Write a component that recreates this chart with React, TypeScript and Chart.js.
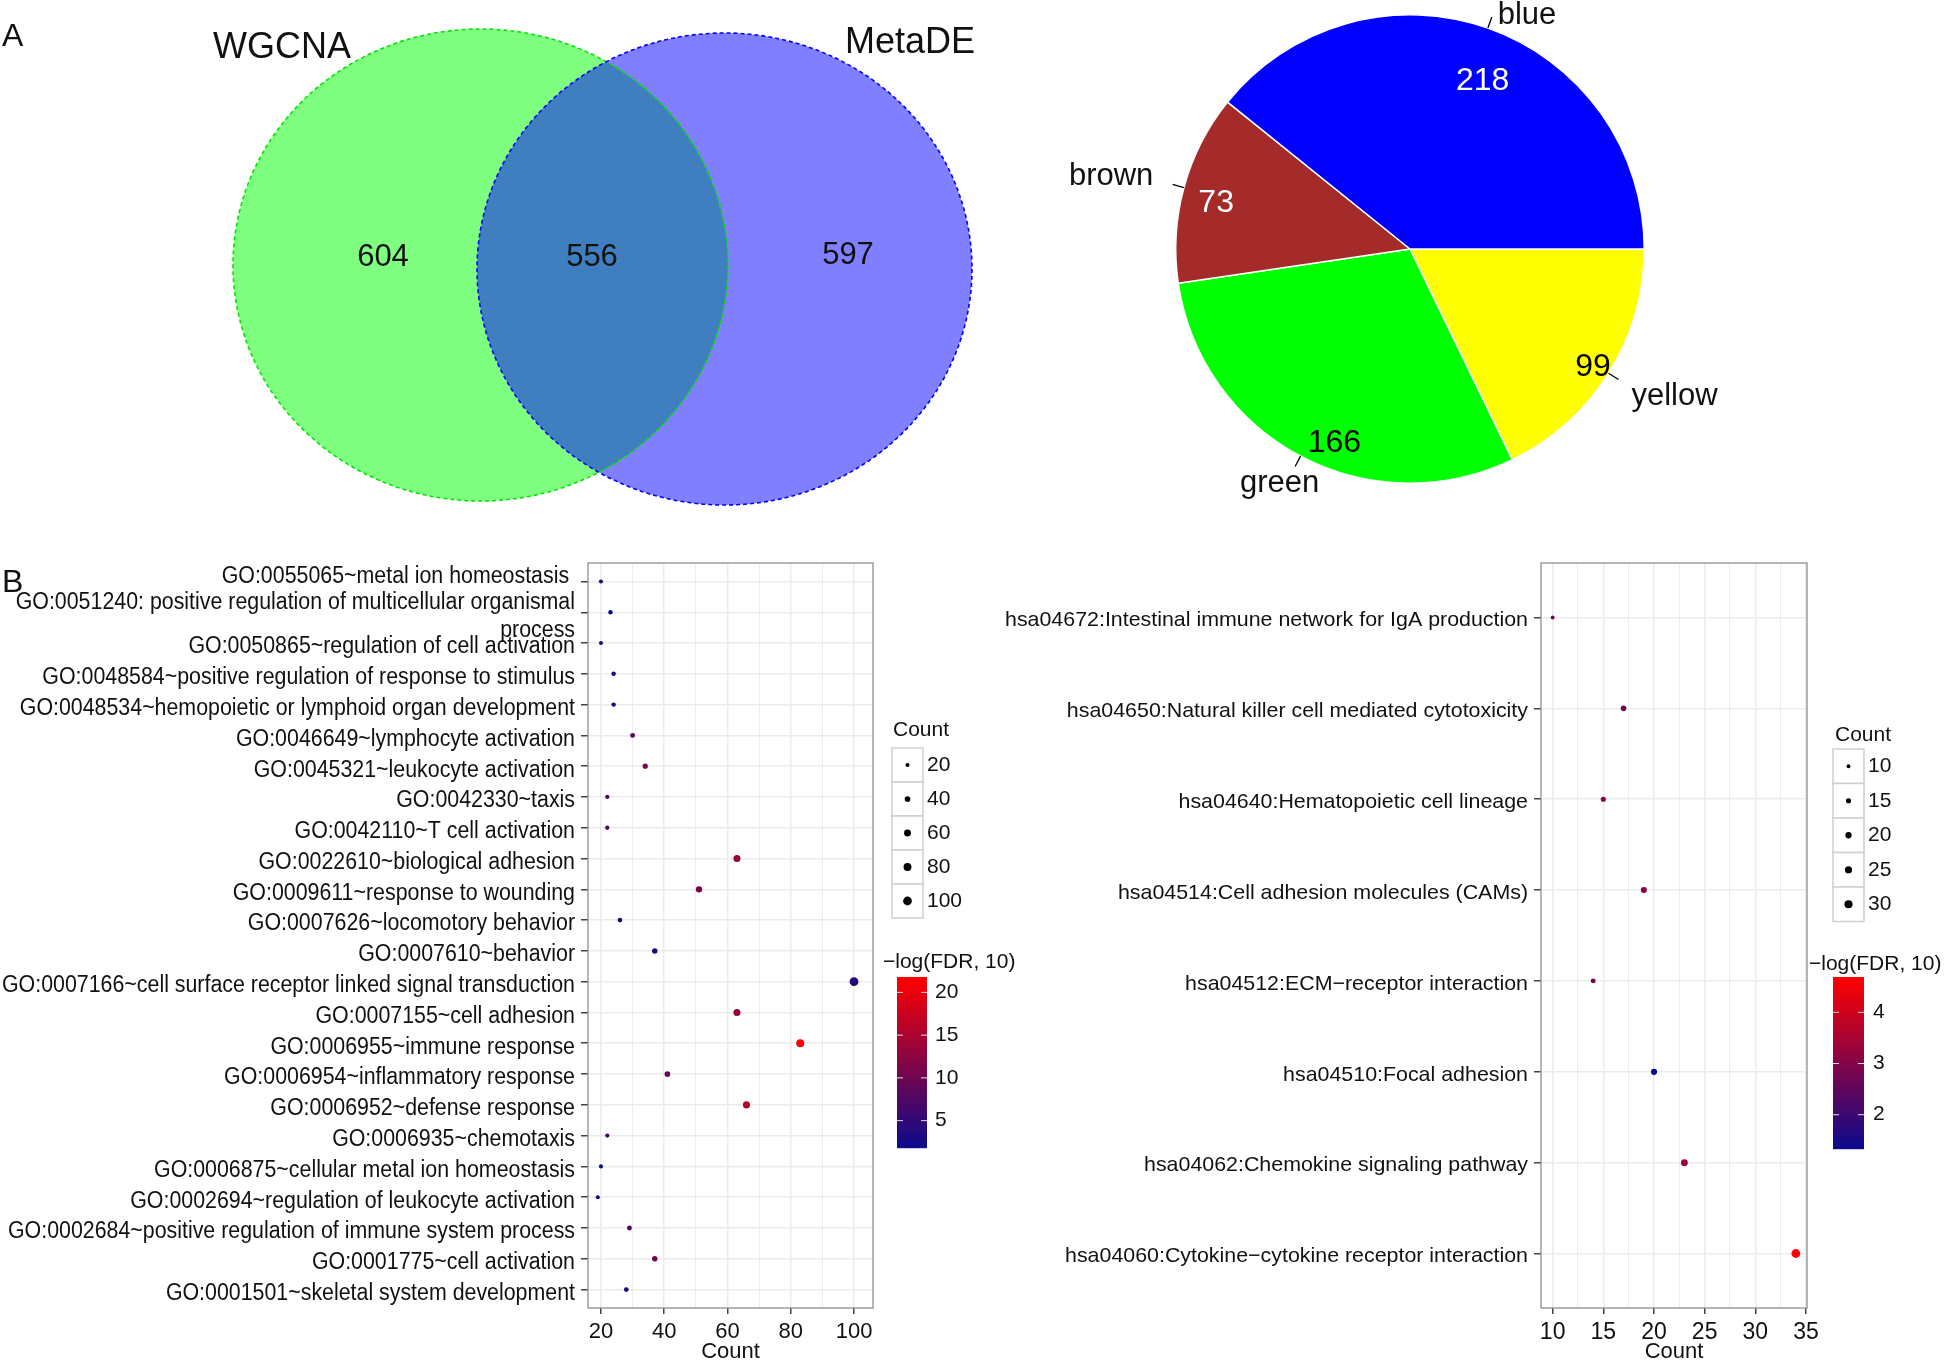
import React, { useEffect, useRef } from 'react';
import { Chart, registerables } from 'chart.js';

Chart.register(...registerables);

const FONT = '"Liberation Sans", Arial, Helvetica, sans-serif';
const TEXT = '#111111';
Chart.defaults.font.family = FONT;

// ---------------- Panel A (left): Venn diagram ----------------
const vennSetNames = ['WGCNA', 'MetaDE'];
const vennRegionCounts = [604, 556, 597]; // WGCNA only, overlap, MetaDE only

// ---------------- Panel A (right): module pie ----------------
const moduleNames = ['blue', 'brown', 'green', 'yellow'];
const moduleSizes = [218, 73, 166, 99];
const moduleColors = ['#0000FF', '#A52A2A', '#00FF00', '#FFFF00'];

// ---------------- Panel B (left): GO enrichment ----------------
const goTerms = [
  'GO:0055065~metal ion homeostasis ',
  'GO:0051240: positive regulation of multicellular organismal\nprocess',
  'GO:0050865~regulation of cell activation',
  'GO:0048584~positive regulation of response to stimulus',
  'GO:0048534~hemopoietic or lymphoid organ development',
  'GO:0046649~lymphocyte activation',
  'GO:0045321~leukocyte activation',
  'GO:0042330~taxis',
  'GO:0042110~T cell activation',
  'GO:0022610~biological adhesion',
  'GO:0009611~response to wounding',
  'GO:0007626~locomotory behavior',
  'GO:0007610~behavior',
  'GO:0007166~cell surface receptor linked signal transduction',
  'GO:0007155~cell adhesion',
  'GO:0006955~immune response',
  'GO:0006954~inflammatory response',
  'GO:0006952~defense response',
  'GO:0006935~chemotaxis',
  'GO:0006875~cellular metal ion homeostasis',
  'GO:0002694~regulation of leukocyte activation',
  'GO:0002684~positive regulation of immune system process',
  'GO:0001775~cell activation',
  'GO:0001501~skeletal system development',
];
const goCounts = [20, 23, 20, 24, 24, 30, 34, 22, 22, 63, 51, 26, 37, 100, 63, 83, 41, 66, 22, 20, 19, 29, 37, 28];
const goLogFdr = [2.2, 2.0, 3.5, 2.4, 2.6, 8.5, 11.0, 7.5, 7.0, 13.5, 10.5, 3.0, 3.2, 4.0, 13.0, 21.8, 9.5, 16.0, 7.2, 1.8, 2.5, 8.0, 10.0, 3.5];
const goXTicks = [20, 40, 60, 80, 100];
const goXMinorTicks = [30, 50, 70, 90];
const goCountBreaks = [20, 40, 60, 80, 100];
const goFdrBreaks = [5, 10, 15, 20];

// ---------------- Panel B (right): KEGG enrichment ----------------
const keggTerms = [
  'hsa04672:Intestinal immune network for IgA production',
  'hsa04650:Natural killer cell mediated cytotoxicity',
  'hsa04640:Hematopoietic cell lineage',
  'hsa04514:Cell adhesion molecules (CAMs)',
  'hsa04512:ECM\u2212receptor interaction',
  'hsa04510:Focal adhesion',
  'hsa04062:Chemokine signaling pathway',
  'hsa04060:Cytokine\u2212cytokine receptor interaction',
];
const keggCounts = [10, 17, 15, 19, 14, 20, 23, 34];
const keggLogFdr = [2.7, 2.6, 3.0, 3.1, 2.8, 1.33, 3.3, 4.69];
const keggXTicks = [10, 15, 20, 25, 30, 35];
const keggXMinorTicks = [12.5, 17.5, 22.5, 27.5, 32.5];
const keggCountBreaks = [10, 15, 20, 25, 30];
const keggFdrBreaks = [2, 3, 4];

// ---------------- colour helper ----------------
function hexToRgb(h: string): number[] {
  const s = h.replace('#', '');
  return [0, 2, 4].map((i) => parseInt(s.slice(i, i + 2), 16));
}
function makeRamp(low: string, high: string, vmin: number, vmax: number) {
  const a = hexToRgb(low);
  const b = hexToRgb(high);
  return (v: number) => {
    const t = Math.max(0, Math.min(1, (v - vmin) / (vmax - vmin)));
    const c = a.map((x, i) => Math.round(x + (b[i] - x) * t));
    return `rgb(${c[0]},${c[1]},${c[2]})`;
  };
}

// ---------------- Venn ----------------
function VennCanvas() {
  const ref = useRef<HTMLCanvasElement>(null);
  useEffect(() => {
    const shapes = [
      { cx: 480.5, cy: 265, rx: 247.5, ry: 236, fill: 'rgba(0,255,0,0.5)', line: '#00E600', title: { x: 282, y: 48 } },
      { cx: 724.5, cy: 269, rx: 247.5, ry: 236, fill: 'rgba(0,0,255,0.5)', line: '#0000FF', title: { x: 910, y: 43 } },
    ];
    const countPos = [{ x: 383, y: 257 }, { x: 592, y: 257 }, { x: 848, y: 255 }];
    const vennPlugin = {
      id: 'venn',
      afterDraw(chart: any) {
        const { ctx } = chart;
        const xs = chart.scales.x, ys = chart.scales.y;
        const px = (v: number) => xs.getPixelForValue(v);
        const py = (v: number) => ys.getPixelForValue(v);
        ctx.save();
        shapes.forEach((s) => {
          ctx.beginPath();
          ctx.ellipse(px(s.cx), py(s.cy), Math.abs(px(s.cx + s.rx) - px(s.cx)), Math.abs(py(s.cy + s.ry) - py(s.cy)), 0, 0, Math.PI * 2);
          ctx.fillStyle = s.fill;
          ctx.fill();
        });
        ctx.setLineDash([4, 3]);
        ctx.lineWidth = 1.6;
        shapes.forEach((s) => {
          ctx.beginPath();
          ctx.ellipse(px(s.cx), py(s.cy), Math.abs(px(s.cx + s.rx) - px(s.cx)), Math.abs(py(s.cy + s.ry) - py(s.cy)), 0, 0, Math.PI * 2);
          ctx.strokeStyle = s.line;
          ctx.stroke();
        });
        ctx.setLineDash([]);
        ctx.fillStyle = TEXT;
        ctx.textAlign = 'center';
        ctx.textBaseline = 'middle';
        ctx.font = `36px ${FONT}`;
        vennSetNames.forEach((n, i) => ctx.fillText(n, px(shapes[i].title.x), py(shapes[i].title.y)));
        ctx.font = `31px ${FONT}`;
        vennRegionCounts.forEach((c, i) => ctx.fillText(String(c), px(countPos[i].x), py(countPos[i].y)));
        ctx.textAlign = 'left';
        ctx.font = `32px ${FONT}`;
        ctx.fillText('A', px(2), py(37));
        ctx.restore();
      },
    };
    const chart = new Chart(ref.current as HTMLCanvasElement, {
      type: 'scatter',
      data: { datasets: [] },
      options: {
        responsive: false,
        animation: false,
        devicePixelRatio: 1,
        events: [],
        layout: { padding: 0 },
        plugins: { legend: { display: false }, tooltip: { enabled: false } },
        scales: {
          x: { type: 'linear', display: false, min: 0, max: 1000 },
          y: { type: 'linear', display: false, min: 0, max: 530, reverse: true },
        },
      },
      plugins: [vennPlugin],
    } as any);
    return () => chart.destroy();
  }, []);
  return <canvas ref={ref} width={1000} height={530} style={{ position: 'absolute', left: 0, top: 0, width: 1000, height: 530 }} />;
}

// ---------------- Pie ----------------
function PieCanvas() {
  const ref = useRef<HTMLCanvasElement>(null);
  useEffect(() => {
    const style: Record<string, any> = {
      blue: { align: 'left', dx: 2, dy: 9, f: 0.78, da: -4, col: '#FFFFFF' },
      brown: { align: 'right', dx: -8, dy: -5, f: 0.85, da: 2, col: '#FFFFFF' },
      green: { align: 'center', dx: -10, dy: 7, f: 0.89, da: 6.6, col: '#000000' },
      yellow: { align: 'left', dx: 3, dy: 11, f: 0.93, da: -0.8, col: '#000000' },
    };
    const labelPlugin = {
      id: 'pieLabels',
      afterDraw(chart: any) {
        const { ctx } = chart;
        const meta = chart.getDatasetMeta(0);
        ctx.save();
        meta.data.forEach((arc: any, i: number) => {
          const p = arc.getProps(['x', 'y', 'startAngle', 'endAngle', 'outerRadius'], true);
          const name = chart.data.labels[i];
          const val = chart.data.datasets[0].data[i];
          const st = style[name];
          const mid = (p.startAngle + p.endAngle) / 2;
          const r = p.outerRadius;
          const c = Math.cos(mid), s = Math.sin(mid);
          ctx.strokeStyle = '#000';
          ctx.lineWidth = 1.3;
          ctx.beginPath();
          ctx.moveTo(p.x + r * c, p.y + r * s);
          ctx.lineTo(p.x + 1.05 * r * c, p.y + 1.05 * r * s);
          ctx.stroke();
          ctx.font = `31px ${FONT}`;
          ctx.fillStyle = TEXT;
          ctx.textAlign = st.align;
          ctx.textBaseline = 'middle';
          ctx.fillText(name, p.x + 1.1 * r * c + st.dx, p.y + 1.1 * r * s + st.dy);
          const a2 = mid - (st.da * Math.PI) / 180;
          ctx.font = `32px ${FONT}`;
          ctx.fillStyle = st.col;
          ctx.textAlign = 'center';
          ctx.fillText(String(val), p.x + st.f * r * Math.cos(a2), p.y + st.f * r * Math.sin(a2));
        });
        ctx.restore();
      },
    };
    const chart = new Chart(ref.current as HTMLCanvasElement, {
      type: 'pie',
      data: {
        labels: [...moduleNames].reverse(),
        datasets: [{
          data: [...moduleSizes].reverse(),
          backgroundColor: [...moduleColors].reverse(),
          borderColor: '#FFFFFF',
          borderWidth: 1.5,
        }],
      },
      options: {
        responsive: false,
        animation: false,
        devicePixelRatio: 1,
        events: [],
        rotation: 90,
        layout: { padding: { left: 175, right: 301, top: 14, bottom: 46 } },
        plugins: { legend: { display: false }, tooltip: { enabled: false } },
      },
      plugins: [labelPlugin],
    } as any);
    return () => chart.destroy();
  }, []);
  return <canvas ref={ref} width={946} height={530} style={{ position: 'absolute', left: 1000, top: 0, width: 946, height: 530 }} />;
}

// ---------------- Dot plots ----------------
type DotCfg = {
  terms: string[]; counts: number[]; fdr: number[];
  xMin: number; xMax: number; xTicks: number[]; xMinor: number[];
  countBreaks: number[]; fdrBreaks: number[];
  width: number; height: number; left: number; top: number;
  area: { left: number; right: number; top: number; bottom: number };
  labelSize: number; labelWidth: number; labelGap: number; labelDy: number; firstDy: number; lineGap: number;
  tickFont: number;
  rRange: number[];
  legend: any;
  letter?: { text: string; x: number; y: number };
};

function DotPlot({ cfg }: { cfg: DotCfg }) {
  const ref = useRef<HTMLCanvasElement>(null);
  useEffect(() => {
    const cMin = Math.min(...cfg.counts), cMax = Math.max(...cfg.counts);
    const fMin = Math.min(...cfg.fdr), fMax = Math.max(...cfg.fdr);
    const rad = (v: number) =>
      cfg.rRange[0] + (cfg.rRange[1] - cfg.rRange[0]) * (Math.sqrt(v) - Math.sqrt(cMin)) / (Math.sqrt(cMax) - Math.sqrt(cMin));
    const col = makeRamp('#0A0A8C', '#FF0000', fMin, fMax);
    const n = cfg.terms.length;
    const isMajor = (v: number) => cfg.xTicks.includes(v);

    const decor = {
      id: 'dotDecor',
      afterDraw(chart: any) {
        const { ctx, chartArea: a } = chart;
        const ys = chart.scales.y;
        ctx.save();
        ctx.strokeStyle = '#8F8F8F';
        ctx.lineWidth = 1.3;
        ctx.strokeRect(a.left, a.top, a.right - a.left, a.bottom - a.top);

        ctx.font = `${cfg.labelSize}px ${FONT}`;
        ctx.fillStyle = TEXT;
        ctx.textBaseline = 'middle';
        ctx.textAlign = 'right';
        const lines = cfg.terms.map((t) => t.split('\n'));
        let widest = 0;
        lines.forEach((ls) => ls.forEach((l) => { widest = Math.max(widest, ctx.measureText(l).width); }));
        const sx = cfg.labelWidth / widest;
        const rx = a.left - cfg.labelGap;
        lines.forEach((ls, i) => {
          const yc = ys.getPixelForValue(i + 1) + (i === 0 ? cfg.firstDy : cfg.labelDy);
          ls.forEach((l, k) => {
            const y = yc + (k - (ls.length - 1) / 2) * cfg.lineGap;
            ctx.save();
            ctx.translate(rx, y);
            ctx.scale(sx, 1);
            ctx.fillText(l, 0, 0);
            ctx.restore();
          });
        });

        const L = cfg.legend;
        ctx.textAlign = 'left';
        ctx.font = `21px ${FONT}`;
        ctx.fillText('Count', L.titleX, L.titleY);
        cfg.countBreaks.forEach((b, i) => {
          const top = L.keyTop + i * L.keyH;
          ctx.fillStyle = '#FFFFFF';
          ctx.fillRect(L.keyX, top, L.keyW, L.keyH);
          ctx.strokeStyle = '#CFCFCF';
          ctx.lineWidth = 1.5;
          ctx.strokeRect(L.keyX, top, L.keyW, L.keyH);
          ctx.fillStyle = '#000000';
          ctx.beginPath();
          ctx.arc(L.keyX + L.keyW / 2, top + L.keyH / 2, rad(b), 0, Math.PI * 2);
          ctx.fill();
          ctx.fillStyle = TEXT;
          ctx.font = `21px ${FONT}`;
          ctx.fillText(String(b), L.keyLabelX, top + L.keyH / 2);
        });

        ctx.font = `21px ${FONT}`;
        ctx.fillStyle = TEXT;
        ctx.fillText('\u2212log(FDR, 10)', L.cbTitleX, L.cbTitleY);
        const H = L.cbBottom - L.cbTop;
        for (let p = 0; p < H; p++) {
          const v = fMax - ((p + 0.5) / H) * (fMax - fMin);
          ctx.fillStyle = col(v);
          ctx.fillRect(L.cbX, L.cbTop + p, L.cbW, 1.2);
        }
        cfg.fdrBreaks.forEach((b) => {
          const y = L.cbBottom - ((b - fMin) / (fMax - fMin)) * H;
          ctx.strokeStyle = 'rgba(255,255,255,0.85)';
          ctx.lineWidth = 1;
          ctx.beginPath();
          ctx.moveTo(L.cbX, y); ctx.lineTo(L.cbX + 6, y);
          ctx.moveTo(L.cbX + L.cbW - 6, y); ctx.lineTo(L.cbX + L.cbW, y);
          ctx.stroke();
          ctx.fillStyle = TEXT;
          ctx.font = `21px ${FONT}`;
          ctx.fillText(String(b), L.cbLabelX, y);
        });

        if (cfg.letter) {
          ctx.font = `32px ${FONT}`;
          ctx.fillStyle = TEXT;
          ctx.fillText(cfg.letter.text, cfg.letter.x, cfg.letter.y);
        }
        ctx.restore();
      },
    };

    const gridValues = [...cfg.xTicks, ...cfg.xMinor].sort((p, q) => p - q);
    const chart = new Chart(ref.current as HTMLCanvasElement, {
      type: 'scatter',
      data: {
        datasets: [{
          data: cfg.counts.map((c, i) => ({ x: c, y: i + 1 })),
          pointRadius: cfg.counts.map(rad),
          pointHoverRadius: cfg.counts.map(rad),
          pointBackgroundColor: cfg.fdr.map(col),
          pointBorderWidth: 0,
          pointBorderColor: 'rgba(0,0,0,0)',
        }],
      },
      options: {
        responsive: false,
        animation: false,
        devicePixelRatio: 1,
        events: [],
        layout: { padding: { left: 0, top: cfg.area.top, right: cfg.width - cfg.area.right, bottom: 0 } },
        plugins: { legend: { display: false }, tooltip: { enabled: false } },
        scales: {
          x: {
            type: 'linear',
            position: 'bottom',
            min: cfg.xMin,
            max: cfg.xMax,
            afterBuildTicks: (s: any) => { s.ticks = gridValues.map((v) => ({ value: v })); },
            afterFit: (s: any) => { s.height = cfg.height - cfg.area.bottom; },
            ticks: {
              autoSkip: false,
              maxRotation: 0,
              padding: 5,
              color: TEXT,
              font: { family: FONT, size: cfg.tickFont },
              callback: (v: any) => (isMajor(Number(v)) ? String(v) : ''),
            },
            grid: {
              color: '#EBEBEB',
              lineWidth: (ctx: any) => (ctx.tick && isMajor(ctx.tick.value) ? 1.5 : 0.9),
              tickLength: 6,
              tickColor: (ctx: any) => (ctx.tick && isMajor(ctx.tick.value) ? '#444444' : 'rgba(0,0,0,0)'),
            },
            border: { display: false },
            title: { display: true, text: 'Count', color: TEXT, font: { family: FONT, size: 22 }, padding: { top: 0, bottom: 0 } },
          },
          y: {
            type: 'linear',
            reverse: true,
            min: 0.4,
            max: n + 0.6,
            afterBuildTicks: (s: any) => { s.ticks = cfg.terms.map((_, i) => ({ value: i + 1 })); },
            afterFit: (s: any) => { s.width = cfg.area.left; },
            ticks: { display: false },
            grid: { color: '#EBEBEB', lineWidth: 1.5, tickLength: 7, tickColor: '#444444' },
            border: { display: false },
          },
        },
      },
      plugins: [decor],
    } as any);
    return () => chart.destroy();
  }, []);
  return (
    <canvas
      ref={ref}
      width={cfg.width}
      height={cfg.height}
      style={{ position: 'absolute', left: cfg.left, top: cfg.top, width: cfg.width, height: cfg.height }}
    />
  );
}

const goCfg: DotCfg = {
  terms: goTerms, counts: goCounts, fdr: goLogFdr,
  xMin: 15.9, xMax: 106, xTicks: goXTicks, xMinor: goXMinorTicks,
  countBreaks: goCountBreaks, fdrBreaks: goFdrBreaks,
  width: 1030, height: 835, left: 0, top: 530,
  area: { left: 588, right: 873, top: 33, bottom: 778 },
  labelSize: 23, labelWidth: 573, labelGap: 13, labelDy: 4, firstDy: -5, lineGap: 28,
  tickFont: 22,
  rRange: [2.0, 4.4],
  legend: {
    titleX: 893, titleY: 200, keyX: 892, keyW: 31, keyTop: 218, keyH: 34, keyLabelX: 927,
    cbTitleX: 883, cbTitleY: 432, cbX: 897, cbW: 30, cbTop: 447, cbBottom: 618, cbLabelX: 935,
  },
  letter: { text: 'B', x: 2, y: 53 },
};

const keggCfg: DotCfg = {
  terms: keggTerms, counts: keggCounts, fdr: keggLogFdr,
  xMin: 8.85, xMax: 35.1, xTicks: keggXTicks, xMinor: keggXMinorTicks,
  countBreaks: keggCountBreaks, fdrBreaks: keggFdrBreaks,
  width: 946, height: 835, left: 1000, top: 530,
  area: { left: 541, right: 807, top: 33, bottom: 778 },
  labelSize: 21, labelWidth: 523, labelGap: 13, labelDy: 3, firstDy: 3, lineGap: 26,
  tickFont: 23,
  rRange: [1.9, 4.4],
  legend: {
    titleX: 835, titleY: 205, keyX: 833, keyW: 31, keyTop: 219, keyH: 34.5, keyLabelX: 868,
    cbTitleX: 809, cbTitleY: 434, cbX: 833, cbW: 31, cbTop: 447, cbBottom: 619, cbLabelX: 873,
  },
};

export default function App() {
  return (
    <div style={{ position: 'absolute', left: 0, top: 0, width: 1946, height: 1365, background: '#FFFFFF', overflow: 'hidden' }}>
      <VennCanvas />
      <PieCanvas />
      <DotPlot cfg={goCfg} />
      <DotPlot cfg={keggCfg} />
    </div>
  );
}
